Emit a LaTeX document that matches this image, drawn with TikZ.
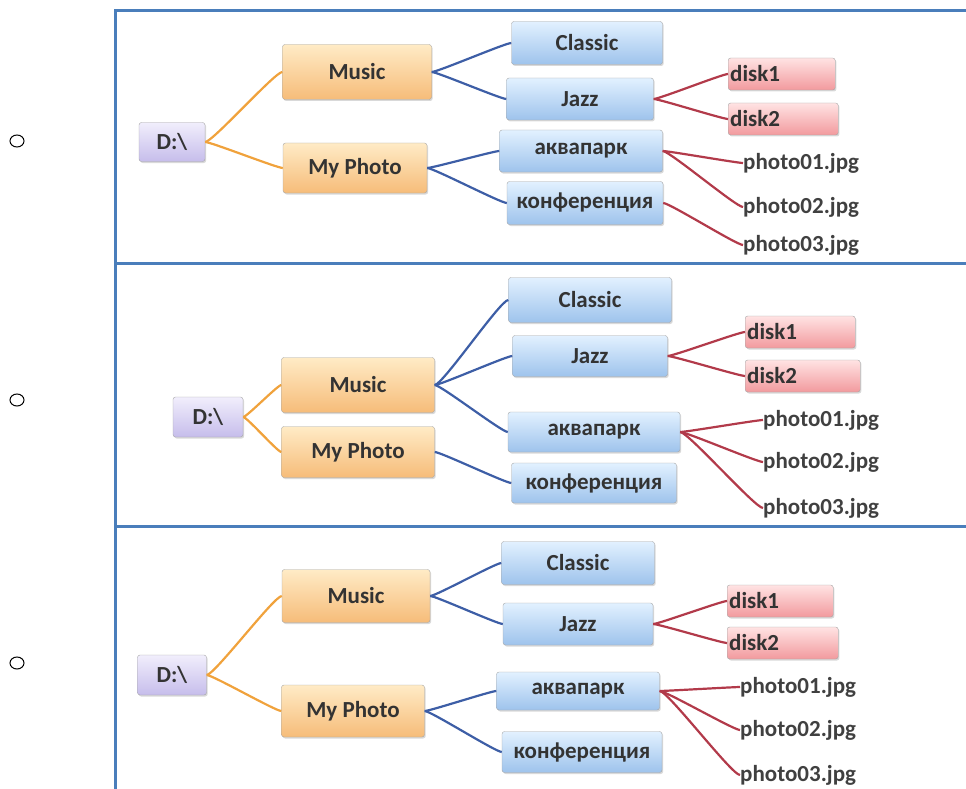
\documentclass[tikz,border=0pt]{standalone}
\usepackage{fontspec}
\setmainfont{Carlito}
\usetikzlibrary{shadows,shapes.geometric}

\definecolor{frameBlue}{HTML}{4A7EBB}
\definecolor{driveTop}{HTML}{F1EEFC}
\definecolor{driveBot}{HTML}{C6BDEB}
\definecolor{folderTop}{HTML}{FFEBC6}
\definecolor{folderBot}{HTML}{F6BC79}
\definecolor{subTop}{HTML}{E2F1FF}
\definecolor{subBot}{HTML}{9EC3EC}
\definecolor{diskTop}{HTML}{FFE3E3}
\definecolor{diskBot}{HTML}{F29A9E}
\definecolor{linkOrange}{HTML}{F0A23C}
\definecolor{linkBlue}{HTML}{3D5EA6}
\definecolor{linkRed}{HTML}{B23A4A}

\begin{document}
\begin{tikzpicture}[
    x=1pt, y=-1pt,
    box/.style={rectangle, draw=black!35, rounded corners=2.5pt, inner sep=0pt,
        font=\fontsize{23}{26}\selectfont\bfseries, text=black!80,
        drop shadow={shadow xshift=1.2pt, shadow yshift=-1.5pt, opacity=0.3}},
    boxsize/.style 2 args={minimum width=#1pt, minimum height=#2pt},
    drive/.style={box, top color=driveTop, bottom color=driveBot},
    folder/.style={box, top color=folderTop, bottom color=folderBot},
    subfolder/.style={box, top color=subTop, bottom color=subBot},
    disk/.style={box, anchor=west, align=left, inner xsep=2pt, text width=#1pt,
        minimum height=32pt, top color=diskTop, bottom color=diskBot},
    file/.style={anchor=west, inner sep=0pt, font=\fontsize{23}{26}\selectfont\bfseries, text=black!75},
    bullet/.style={ellipse, draw=black, line width=1pt, minimum width=14pt, minimum height=12pt, inner sep=0pt},
    link/.style={line width=2.2pt, out=0, in=180, looseness=0.18},
    warmlink/.style={link, draw=linkOrange},
    coollink/.style={link, draw=linkBlue},
    redlink/.style={link, draw=linkRed},
    frameline/.style={draw=frameBlue, line width=3pt}
]
    \useasboundingbox (0,0) rectangle (966,789);

    \draw[frameline] (115,789) -- (115,11) -- (966,11);
    \draw[frameline] (115,263) -- (966,263);
    \draw[frameline] (115,526) -- (966,526);

    \foreach \y in {141,400,663}
        \node[bullet] (bullet\y) at (17,\y) {};

    % first variant
    \node[drive, boxsize={66}{39}] (drive1) at (172,142) {D:\textbackslash};
    \node[folder, boxsize={149}{55}] (music1) at (357,72) {Music};
    \node[folder, boxsize={144}{50}] (photo1) at (355,168) {My Photo};
    \node[subfolder, boxsize={151}{43}] (classic1) at (587,43) {Classic};
    \node[subfolder, boxsize={147}{42}] (jazz1) at (580,99) {Jazz};
    \node[subfolder, boxsize={163}{42}] (aqua1) at (581,151) {аквапарк};
    \node[subfolder, boxsize={156}{43}] (conf1) at (585,203) {конференция};
    \node[disk=103] (diskA1) at (728,74) {disk1};
    \node[disk=106] (diskB1) at (728,119) {disk2};
    \node[file] (jpgA1) at (743,163) {photo01.jpg};
    \node[file] (jpgB1) at (743,207) {photo02.jpg};
    \node[file] (jpgC1) at (743,245) {photo03.jpg};

    \draw[warmlink] (drive1.east) to (music1.west);
    \draw[warmlink] (drive1.east) to (photo1.west);
    \draw[coollink] (music1.east) to (classic1.west);
    \draw[coollink] (music1.east) to (jazz1.west);
    \draw[coollink] (photo1.east) to (aqua1.west);
    \draw[coollink] (photo1.east) to (conf1.west);
    \draw[redlink] (jazz1.east) to (diskA1.west);
    \draw[redlink] (jazz1.east) to (diskB1.west);
    \draw[redlink] (aqua1.east) to (jpgA1.west);
    \draw[redlink] (aqua1.east) to (jpgB1.west);
    \draw[redlink] (conf1.east) to (jpgC1.west);

    % second variant
    \node[drive, boxsize={70}{40}] (drive2) at (208,417) {D:\textbackslash};
    \node[folder, boxsize={153}{55}] (music2) at (358,385) {Music};
    \node[folder, boxsize={153}{51}] (photo2) at (358,452) {My Photo};
    \node[subfolder, boxsize={163}{45}] (classic2) at (590,300) {Classic};
    \node[subfolder, boxsize={155}{41}] (jazz2) at (590,356) {Jazz};
    \node[subfolder, boxsize={172}{40}] (aqua2) at (594,432) {аквапарк};
    \node[subfolder, boxsize={165}{40}] (conf2) at (594,483) {конференция};
    \node[disk=106] (diskA2) at (745,332) {disk1};
    \node[disk=111] (diskB2) at (745,376) {disk2};
    \node[file] (jpgA2) at (763,420) {photo01.jpg};
    \node[file] (jpgB2) at (763,462) {photo02.jpg};
    \node[file] (jpgC2) at (763,508) {photo03.jpg};

    \draw[warmlink] (drive2.east) to (music2.west);
    \draw[warmlink] (drive2.east) to (photo2.west);
    \draw[coollink] (music2.east) to (classic2.west);
    \draw[coollink] (music2.east) to (jazz2.west);
    \draw[coollink] (music2.east) to (aqua2.west);
    \draw[coollink] (photo2.east) to (conf2.west);
    \draw[redlink] (jazz2.east) to (diskA2.west);
    \draw[redlink] (jazz2.east) to (diskB2.west);
    \draw[redlink] (aqua2.east) to (jpgA2.west);
    \draw[redlink] (aqua2.east) to (jpgB2.west);
    \draw[redlink] (aqua2.east) to (jpgC2.west);

    % third variant
    \node[drive, boxsize={69}{40}] (drive3) at (172,675) {D:\textbackslash};
    \node[folder, boxsize={148}{53}] (music3) at (356,596) {Music};
    \node[folder, boxsize={143}{52}] (photo3) at (353,711) {My Photo};
    \node[subfolder, boxsize={153}{43}] (classic3) at (578,563) {Classic};
    \node[subfolder, boxsize={150}{42}] (jazz3) at (578,624) {Jazz};
    \node[subfolder, boxsize={163}{38}] (aqua3) at (578,691) {аквапарк};
    \node[subfolder, boxsize={160}{41}] (conf3) at (582,752) {конференция};
    \node[disk=102] (diskA3) at (727,601) {disk1};
    \node[disk=107] (diskB3) at (727,643) {disk2};
    \node[file] (jpgA3) at (740,687) {photo01.jpg};
    \node[file] (jpgB3) at (740,730) {photo02.jpg};
    \node[file] (jpgC3) at (740,775) {photo03.jpg};

    \draw[warmlink] (drive3.east) to (music3.west);
    \draw[warmlink] (drive3.east) to (photo3.west);
    \draw[coollink] (music3.east) to (classic3.west);
    \draw[coollink] (music3.east) to (jazz3.west);
    \draw[coollink] (photo3.east) to (aqua3.west);
    \draw[coollink] (photo3.east) to (conf3.west);
    \draw[redlink] (jazz3.east) to (diskA3.west);
    \draw[redlink] (jazz3.east) to (diskB3.west);
    \draw[redlink] (aqua3.east) to (jpgA3.west);
    \draw[redlink] (aqua3.east) to (jpgB3.west);
    \draw[redlink] (aqua3.east) to (jpgC3.west);
\end{tikzpicture}
\end{document}
